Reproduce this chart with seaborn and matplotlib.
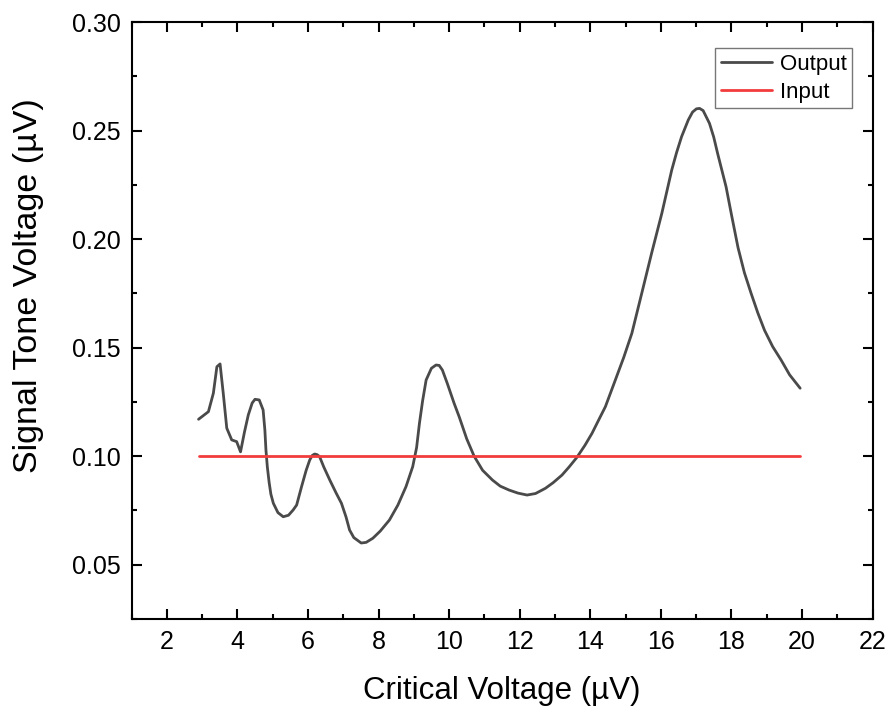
import numpy as np
import pandas as pd
import matplotlib
matplotlib.use("Agg")
import matplotlib.pyplot as plt
import seaborn as sns
from matplotlib.ticker import MultipleLocator

# ---- data ----
output_x = [2.9, 3.18, 3.32, 3.42, 3.51, 3.6, 3.70, 3.84, 3.98, 4.09, 4.2, 4.31, 4.42,
            4.5, 4.62, 4.73, 4.78, 4.81, 4.85, 4.9, 4.95, 5.02, 5.15, 5.30, 5.45, 5.58,
            5.68, 5.82, 5.95, 6.05, 6.12, 6.19, 6.26, 6.33, 6.45, 6.62, 6.8, 6.95, 7.08,
            7.18, 7.3, 7.51, 7.65, 7.84, 8.05, 8.31, 8.55, 8.78, 8.97, 9.08, 9.16, 9.25,
            9.35, 9.5, 9.63, 9.72, 9.81, 9.95, 10.14, 10.29, 10.5, 10.71, 10.95, 11.23,
            11.45, 11.70, 11.95, 12.21, 12.45, 12.73, 12.95, 13.20, 13.4, 13.62, 13.85,
            14.05, 14.25, 14.43, 14.71, 14.95, 15.18, 15.46, 15.74, 16.03, 16.31, 16.45,
            16.59, 16.78, 16.9, 17.01, 17.1, 17.2, 17.38, 17.5, 17.61, 17.85, 18.0, 18.19,
            18.37, 18.56, 18.75, 18.94, 19.17, 19.41, 19.65, 19.95]
output_y = [0.117, 0.1205, 0.129, 0.1412, 0.1425, 0.129, 0.1129, 0.1075, 0.1067, 0.102,
            0.111, 0.119, 0.1245, 0.1262, 0.1259, 0.1213, 0.112, 0.1029, 0.095, 0.088,
            0.0825, 0.0783, 0.074, 0.0721, 0.0728, 0.0752, 0.0775, 0.086, 0.0935, 0.0982,
            0.1003, 0.101, 0.1007, 0.0998, 0.095, 0.089, 0.083, 0.0783, 0.072, 0.066,
            0.0625, 0.060, 0.0603, 0.0622, 0.0655, 0.0706, 0.0775, 0.086, 0.0952, 0.104,
            0.1151, 0.1255, 0.1351, 0.1405, 0.142, 0.1418, 0.1397, 0.1335, 0.1245, 0.118,
            0.108, 0.100, 0.0935, 0.089, 0.0862, 0.0844, 0.083, 0.0821, 0.0828, 0.0852,
            0.0878, 0.0913, 0.095, 0.0994, 0.105, 0.1105, 0.117, 0.1228, 0.135, 0.1455,
            0.1566, 0.175, 0.1935, 0.2119, 0.2318, 0.240, 0.2472, 0.2549, 0.2585, 0.2600,
            0.2602, 0.2592, 0.2533, 0.247, 0.2395, 0.2241, 0.2115, 0.196, 0.1845, 0.175,
            0.166, 0.158, 0.1505, 0.1443, 0.1375, 0.1313]
input_x = [2.9, 19.95]
input_y = [0.10, 0.10]

series_names = ["Output", "Input"]
series_colors = ["#4a4a4a", "#f23c3c"]

df = pd.concat([
    pd.DataFrame({"x": output_x, "y": output_y, "series": "Output"}),
    pd.DataFrame({"x": input_x, "y": input_y, "series": "Input"}),
], ignore_index=True)

sns.set_style("ticks")
plt.rcParams["font.family"] = ["Liberation Sans", "DejaVu Sans"]
plt.rcParams["text.color"] = "black"
plt.rcParams["axes.labelcolor"] = "black"
plt.rcParams["xtick.color"] = "black"
plt.rcParams["ytick.color"] = "black"

fig = plt.figure(figsize=(8.89, 7.12), dpi=100)
ax = fig.add_axes([131.5 / 889, 1 - 619 / 712, (872.5 - 131.5) / 889, (619 - 22) / 712])

sns.lineplot(data=df, x="x", y="y", hue="series", hue_order=series_names,
             palette=dict(zip(series_names, series_colors)), linewidth=2.0,
             sort=False, estimator=None, ax=ax)

ax.set_xlim(1, 22)
ax.set_ylim(0.025, 0.30)
ax.xaxis.set_minor_locator(MultipleLocator(1))
ax.yaxis.set_minor_locator(MultipleLocator(0.025))
ax.set_xticks(np.arange(2, 23, 2))
ax.set_xticklabels([str(v) for v in range(2, 23, 2)])
ax.set_yticks([0.05, 0.10, 0.15, 0.20, 0.25, 0.30])
ax.set_yticklabels(["0.05", "0.10", "0.15", "0.20", "0.25", "0.30"])

for s in ax.spines.values():
    s.set_visible(True)
    s.set_linewidth(1.5)
    s.set_color("black")
ax.tick_params(which="both", direction="in", top=True, right=True, width=1.5,
               color="black", labelcolor="black")
ax.tick_params(which="major", length=7, labelsize=18, pad=6)
ax.tick_params(which="minor", length=3.5)
ax.tick_params(axis="x", which="major", pad=8)
ax.tick_params(axis="y", which="major", pad=8)

ax.set_xlabel("Critical Voltage (µV)", fontsize=22.5, labelpad=16, color="black")
ax.set_ylabel("Signal Tone Voltage (µV)", fontsize=24.5, color="black")
ax.yaxis.set_label_coords(-0.118, 0.558)

leg = ax.legend(loc="upper right", bbox_to_anchor=(0.9723, 0.9564), fontsize=16,
                frameon=True, fancybox=False, edgecolor="#555555", handlelength=2.3,
                handletextpad=0.35, borderpad=0.25, labelspacing=0.33, borderaxespad=0)
leg.get_frame().set_linewidth(1.0)
for t in leg.get_texts():
    t.set_color("black")
for line in leg.get_lines():
    line.set_linewidth(2.0)

fig.savefig("out.png", dpi=100)
